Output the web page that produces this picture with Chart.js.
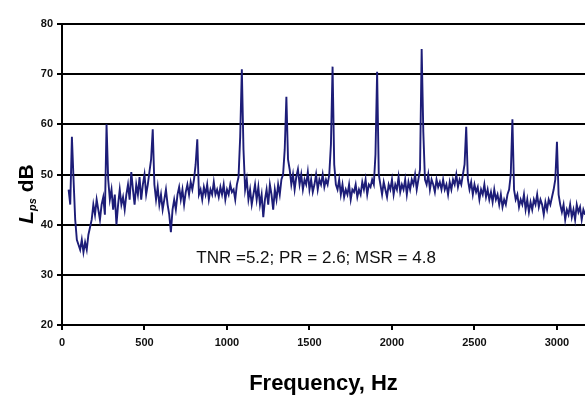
<!DOCTYPE html>
<html>
<head>
<meta charset="utf-8">
<script src="https://cdn.jsdelivr.net/npm/chart.js@4.4.1/dist/chart.umd.min.js"></script>
<style>
html,body{margin:0;padding:0;background:#fff;}
canvas{display:block;}
</style>
</head>
<body>
<canvas id="c" width="585" height="401"></canvas>
<script>
// Spectrum bins: first bin frequency and bin spacing (Hz)
const freqStart = 40;
const freqStep = 10;
// Sound pressure level Lps (dB) per bin
const levels = [
  47,44,57.5,49,41,37,
  36,35,37,34.5,36.5,35,38,39.5,41,44,
  42,45,43,41,44,45.5,42,60,49,45,
  47,43,46,40,44,47,44,45.5,43,46,
  48,45,50.5,47,44,48,46,49.5,45,48,
  50,46,48,50.5,53,59,48,45,47.5,44,
  46,43,45,47,44,42,38.5,43,45,43,
  46,47.5,45,47,44,46.5,48,46,48.5,47,
  49,52,57,46,47,45,47.5,46,48,45,
  47,46,48.5,46,47,45.5,47.5,46,48,45,
  47,46,48,46.5,47,45,48,49.5,57.5,71,
  55,47,49,45,47,44,46,48,45,47.5,
  44,46,41.5,45,47,44,48,46,43,47,
  45,48,46,49,50,55,65.5,53,51,48,
  50,47,49.5,51,48,50,47,49,48,50.5,
  47,49,46.5,48,50,47,49,48,50,47.5,
  49,48,50,56,71.5,52,48,47,49,46,
  48,45.5,47,46,48,45,47,46.5,48,45.5,
  47,46,48.5,47,49,46,48,47.5,49,48,
  54,70.5,50,48,46,48.5,47,45.5,48,47,
  49,46,48,47,49.5,46.5,48,47,49,46,
  48.5,47,49,48,50,47,49,51,75,58.5,
  49,48,50,47,49,48,46.5,49,47.5,48.5,
  47,49,47,48,46,48.5,47,49,48,50,
  47.5,49,48,50,52,59.5,49,47,48.5,46,
  48,46.5,47.5,45,47,46,48,45.5,47,45,
  46.5,44.5,47,45,46,44,46,43.5,45,44,
  46,47,50,61,47,45,46,43.5,45,44,
  46,43,45,42.5,44.5,43,45,44,46,43.5,
  45,44,42,44.5,43,45,44,45.5,47,49,
  56.5,46,44,42.5,44,41,43,42,44,41.5,
  43,41,44,42.5,43.5,41,43,42
];
const xTicks = [0, 500, 1000, 1500, 2000, 2500, 3000];
const yTicks = [20, 30, 40, 50, 60, 70, 80];
const annotationText = 'TNR =5.2; PR = 2.6; MSR = 4.8';
const xTitle = 'Frequency, Hz';

const points = levels.map((v, i) => ({x: freqStart + i * freqStep, y: v}));

const FONT = '"Liberation Sans", Arial, sans-serif';

const extras = {
  id: 'extras',
  afterDraw(chart) {
    const ctx = chart.ctx;
    const xs = chart.scales.x, ys = chart.scales.y;
    ctx.save();
    // annotation
    ctx.fillStyle = '#111';
    ctx.font = '17px ' + FONT;
    ctx.textAlign = 'center';
    ctx.textBaseline = 'middle';
    ctx.fillText(annotationText, xs.getPixelForValue(1540), ys.getPixelForValue(33.3));
    // y title with subscript, rotated
    ctx.translate(27, 194);
    ctx.rotate(-Math.PI / 2);
    ctx.textAlign = 'left';
    ctx.textBaseline = 'middle';
    const fL = 'italic bold 21px ' + FONT;
    const fS = 'italic bold 11px ' + FONT;
    const fD = 'bold 21px ' + FONT;
    ctx.font = fL; const wL = ctx.measureText('L').width;
    ctx.font = fS; const wS = ctx.measureText('ps').width;
    ctx.font = fD; const wD = ctx.measureText(' dB').width;
    let x0 = -(wL + wS + wD) / 2;
    ctx.fillStyle = '#000';
    ctx.font = fL; ctx.fillText('L', x0, 0); x0 += wL;
    ctx.font = fS; ctx.fillText('ps', x0, 6); x0 += wS;
    ctx.font = fD; ctx.fillText(' dB', x0, 0);
    ctx.restore();
  }
};

new Chart(document.getElementById('c'), {
  type: 'line',
  data: {
    datasets: [{
      data: points,
      borderColor: '#1d1d78',
      borderWidth: 1.9,
      pointRadius: 0,
      tension: 0,
      fill: false
    }]
  },
  options: {
    responsive: false,
    animation: false,
    devicePixelRatio: 1,
    layout: {padding: {top: 24, right: 0, left: 0, bottom: 0}},
    plugins: {
      legend: {display: false},
      tooltip: {enabled: false},
      title: {display: false}
    },
    scales: {
      x: {
        type: 'linear',
        min: 0,
        max: 3170,
        afterBuildTicks: s => { s.ticks = xTicks.map(v => ({value: v})); },
        afterFit: s => { s.height = 76; },
        ticks: {
          color: '#111',
          font: {family: FONT, size: 11, weight: 'bold'},
          padding: 6,
          maxRotation: 0,
          autoSkip: false,
          callback: v => String(v)
        },
        grid: {drawOnChartArea: false, drawTicks: true, tickLength: 5, color: '#000', lineWidth: 2},
        border: {color: '#000', width: 2},
        title: {
          display: true,
          text: xTitle,
          color: '#000',
          font: {family: FONT, size: 22, weight: 'bold'},
          padding: {top: 10}
        }
      },
      y: {
        min: 20,
        max: 80,
        afterBuildTicks: s => { s.ticks = yTicks.map(v => ({value: v})); },
        afterFit: s => { s.width = 62; },
        ticks: {
          color: '#111',
          font: {family: FONT, size: 11, weight: 'bold'},
          padding: 4,
          callback: v => String(v)
        },
        grid: {color: '#000', lineWidth: 2, tickLength: 5, drawTicks: true},
        border: {color: '#000', width: 2}
      }
    }
  },
  plugins: [extras]
});
</script>
</body>
</html>
